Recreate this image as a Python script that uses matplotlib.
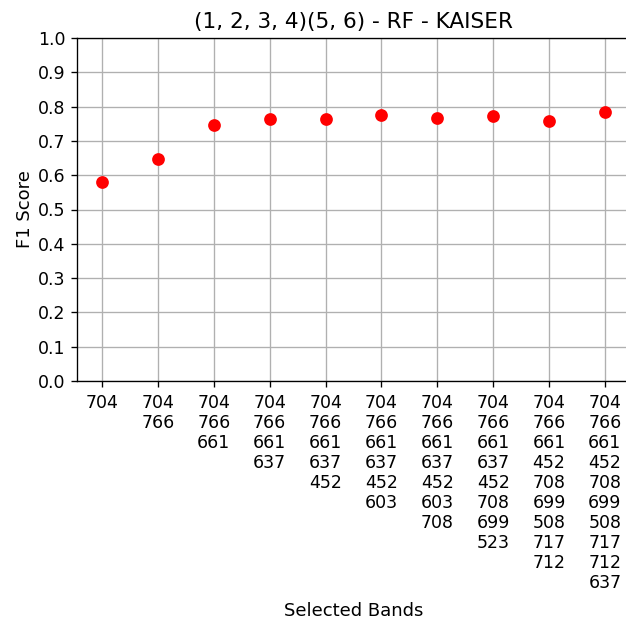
import matplotlib
matplotlib.use("Agg")
import matplotlib.pyplot as plt

# selected bands per step and F1 score
band_sets = [
    [704],
    [704, 766],
    [704, 766, 661],
    [704, 766, 661, 637],
    [704, 766, 661, 637, 452],
    [704, 766, 661, 637, 452, 603],
    [704, 766, 661, 637, 452, 603, 708],
    [704, 766, 661, 637, 452, 708, 699, 523],
    [704, 766, 661, 452, 708, 699, 508, 717, 712],
    [704, 766, 661, 452, 708, 699, 508, 717, 712, 637],
]
f1_scores = [0.580, 0.648, 0.747, 0.765, 0.765, 0.776, 0.768, 0.773, 0.757, 0.785]

tick_labels = ["\n".join(str(b) for b in bs) for bs in band_sets]
x = list(range(len(f1_scores)))

W, H = 626, 621
fig = plt.figure(figsize=(W / 120, H / 120), dpi=120)
# axes reaches just past the right edge of the figure like the original
ax = fig.add_axes([77 / W, (H - 381) / H, (630 - 77) / W, 343 / H])

ax.scatter(x, f1_scores, color="red", s=44, zorder=3)

ax.set_xticks(x)
ax.set_xticklabels(tick_labels, fontsize=10.4, linespacing=1.14)
ax.tick_params(axis="x", pad=4.5)
ax.tick_params(axis="y", labelsize=10.4)
ax.set_ylim(0, 1)
ax.set_yticks([i / 10 for i in range(11)])
ax.grid(True)
ax.set_axisbelow(True)
ax.spines["right"].set_visible(False)

ax.set_title("(1, 2, 3, 4)(5, 6) - RF - KAISER", fontsize=13)
ax.set_ylabel("F1 Score", fontsize=10.8, labelpad=2)
ax.set_xlabel("Selected Bands", fontsize=10.8, labelpad=6)

fig.savefig("out.png", dpi=120)
